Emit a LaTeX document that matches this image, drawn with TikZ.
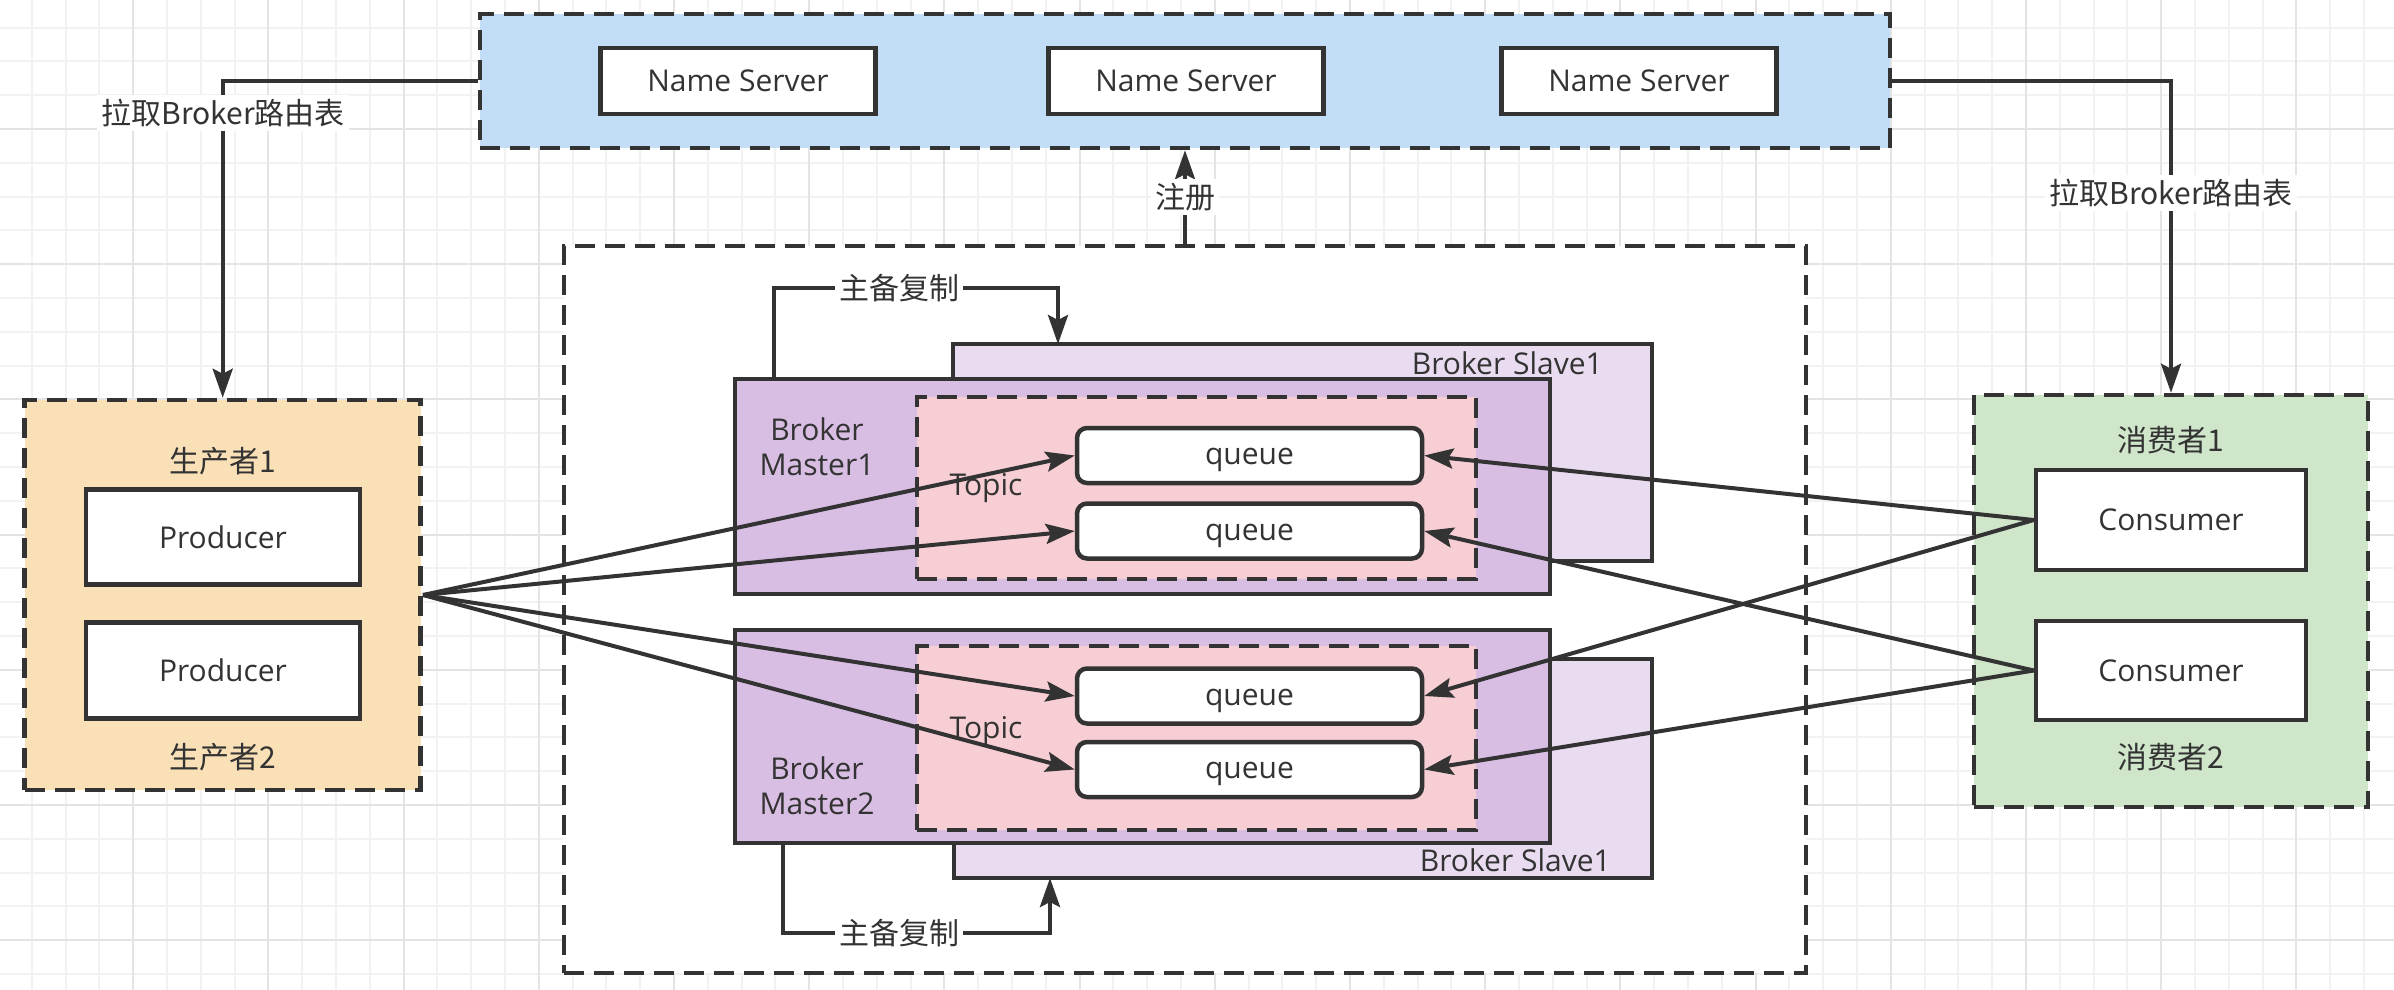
\documentclass[tikz,border=0pt]{standalone}
\usepackage{fontspec}
\setmainfont{Open Sans}
\newfontfamily\cjk{Noto Sans CJK SC}
\usetikzlibrary{arrows.meta}
\definecolor{ink}{HTML}{333333}
\definecolor{nsblue}{RGB}{194,222,247}
\definecolor{prodfill}{RGB}{250,224,182}
\definecolor{consfill}{RGB}{208,230,202}
\definecolor{slavefill}{RGB}{233,220,240}
\definecolor{masterfill}{RGB}{217,190,228}
\definecolor{topicfill}{RGB}{247,206,212}
\definecolor{gridminor}{RGB}{242,242,242}
\definecolor{gridmajor}{RGB}{228,228,228}
\begin{document}
\begin{tikzpicture}[x=1pt,y=-1pt,
  every node/.style={font=\fontsize{30}{35}\selectfont, text=ink},
  solidbox/.style={draw=ink, line width=4.5pt, inner sep=0pt, rectangle},
  dashbox/.style={draw=ink, line width=4.5pt, dash pattern=on 20pt off 10pt, inner sep=0pt, rectangle},
  qbox/.style={draw=ink, line width=4.5pt, inner sep=0pt, rectangle, rounded corners=10pt, fill=white, minimum width=345pt, minimum height=55pt, text height=24pt, text depth=6pt},
  conn/.style={draw=ink, line width=4pt, -{Stealth[length=29pt,width=20pt,inset=5pt]}},
  lbl/.style={fill=white, inner sep=4pt},
  txt/.style={inner sep=0pt, align=center},
]
\useasboundingbox (0,0) rectangle (2394,990);
\fill[white] (0,0) rectangle (2394,990);
% grid
\foreach \i in {0,...,71} \draw[gridminor, line width=2pt] ({-2.1+33.8*\i},0) -- ({-2.1+33.8*\i},990);
\foreach \j in {0,...,30} \draw[gridminor, line width=2pt] (0,{-6.2+33.8*\j}) -- (2394,{-6.2+33.8*\j});
\foreach \i in {0,...,18} \draw[gridmajor, line width=2pt] ({-2.1+135.2*\i},0) -- ({-2.1+135.2*\i},990);
\foreach \j in {0,...,8} \draw[gridmajor, line width=2pt] (0,{-6.2+135.2*\j}) -- (2394,{-6.2+135.2*\j});

% Name server group
\node[dashbox, fill=nsblue, minimum width=1410pt, minimum height=134pt] (nsg) at (1185,81) {};
\node[solidbox, fill=white, minimum width=275pt, minimum height=66pt] (ns1) at (738,81) {Name Server};
\node[solidbox, fill=white, minimum width=275pt, minimum height=66pt] (ns2) at (1186,81) {Name Server};
\node[solidbox, fill=white, minimum width=275pt, minimum height=66pt] (ns3) at (1639,81) {Name Server};

% broker cluster
\node[dashbox, fill=white, minimum width=1242pt, minimum height=727pt] (broker) at (1185,609.5) {};

\node[solidbox, fill=slavefill, minimum width=699pt, minimum height=217pt] (slave1) at (1302.5,452.5) {};
\node[solidbox, fill=masterfill, minimum width=815pt, minimum height=215pt] (master1) at (1142.5,486.5) {};
\node[dashbox, fill=topicfill, minimum width=559pt, minimum height=182pt] (topic1) at (1196.5,488) {};
\node[qbox] (q1) at (1249.5,455.5) {queue};
\node[qbox] (q2) at (1249.5,531) {queue};

\node[solidbox, fill=slavefill, minimum width=698pt, minimum height=219pt] (slave2) at (1303,768.5) {};
\node[solidbox, fill=masterfill, minimum width=815pt, minimum height=213pt] (master2) at (1142.5,736.5) {};
\node[dashbox, fill=topicfill, minimum width=559pt, minimum height=184pt] (topic2) at (1196.5,738) {};
\node[qbox] (q3) at (1249.5,696) {queue};
\node[qbox] (q4) at (1249.5,769.5) {queue};

\node[txt] (m1lbl) at (817,447) {Broker\\Master1};
\node[txt] (m2lbl) at (817,786) {Broker\\Master2};
\node[txt] (t1lbl) at (986,488) {Topic};
\node[txt] (t2lbl) at (986,731) {Topic};
\node[txt, anchor=east] (s1lbl) at (1603,363) {Broker Slave1};
\node[txt, anchor=east] (s2lbl) at (1611,860) {Broker Slave1};

% producers
\node[dashbox, fill=prodfill, minimum width=396pt, minimum height=390pt] (prodg) at (222.7,595) {};
\node[txt] (p1lbl) at (223,461) {\cjk{生产者}1};
\node[solidbox, fill=white, minimum width=274pt, minimum height=95pt] (prod1) at (223,537) {Producer};
\node[solidbox, fill=white, minimum width=274pt, minimum height=96pt] (prod2) at (223,670.5) {Producer};
\node[txt] (p2lbl) at (223,757) {\cjk{生产者}2};

% consumers
\node[dashbox, fill=consfill, minimum width=394pt, minimum height=412pt] (consg) at (2171,601) {};
\node[txt] (c1lbl) at (2171,440) {\cjk{消费者}1};
\node[solidbox, fill=white, minimum width=270pt, minimum height=100pt] (cons1) at (2171,520) {Consumer};
\node[solidbox, fill=white, minimum width=270pt, minimum height=99pt] (cons2) at (2171,670.5) {Consumer};
\node[txt] (c2lbl) at (2171,757) {\cjk{消费者}2};

% routing table connectors
\draw[conn] (nsg.west) -| (prodg.north);
\node[lbl] (lblL) at (223,113) {\cjk{拉取}Broker\cjk{路由表}};
\draw[conn] (nsg.east) -| (consg.north);
\node[lbl] (lblR) at (2171,193) {\cjk{拉取}Broker\cjk{路由表}};

% register
\draw[conn] (broker.north) -- (nsg.south);
\node[lbl] (lblReg) at (1185,197) {\cjk{注册}};

% master-slave replication
\coordinate (m1rep) at (774,379);
\coordinate (s1rep) at (1058,344);
\draw[conn] (m1rep) -- (774,288) -- (1058,288) -- (s1rep);
\node[lbl] (rep1) at (899,288) {\cjk{主备复制}};
\coordinate (m2rep) at (783,843);
\coordinate (s2rep) at (1050,878);
\draw[conn] (m2rep) -- (783,933) -- (1050,933) -- (s2rep);
\node[lbl] (rep2) at (899,933) {\cjk{主备复制}};

% producer to queues
\draw[conn] (prodg.east) -- (q1.west);
\draw[conn] (prodg.east) -- (q2.west);
\draw[conn] (prodg.east) -- (q3.west);
\draw[conn] (prodg.east) -- (q4.west);

% consumers to queues
\draw[conn] (cons1.west) -- (q1.east);
\draw[conn] (cons1.west) -- (q3.east);
\draw[conn] (cons2.west) -- (q2.east);
\draw[conn] (cons2.west) -- (q4.east);
\end{tikzpicture}
\end{document}
